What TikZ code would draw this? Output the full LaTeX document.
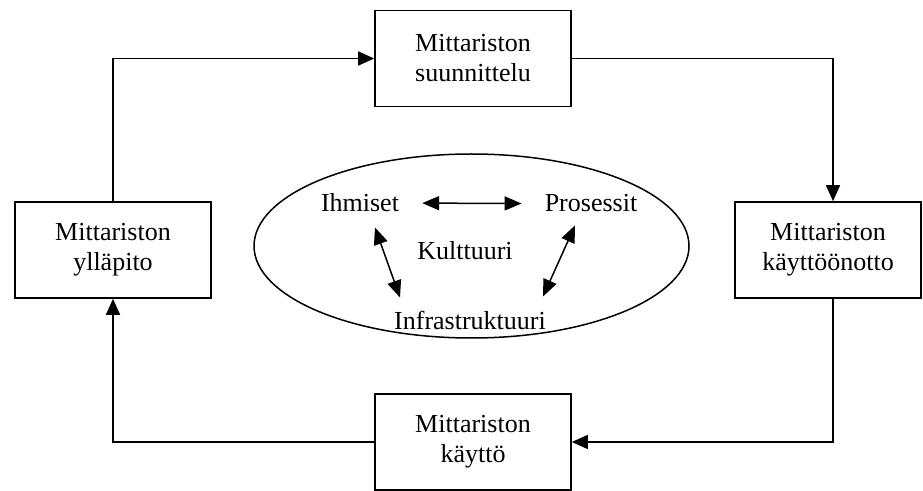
\documentclass[tikz,border=0pt]{standalone}
\usepackage{fontspec}
\setmainfont{Liberation Serif}
\usetikzlibrary{arrows.meta,shapes.geometric}
\begin{document}
\begin{tikzpicture}[x=1pt,y=1pt,
  every node/.style={font=\fontsize{26}{30}\selectfont},
  phase/.style={draw,line width=1.6pt,align=center,minimum width=196pt,minimum height=96pt,inner sep=0pt},
  flow/.style={line width=1.5pt,-{Triangle[length=16pt,width=14pt]}},
  link/.style={line width=1.5pt,{Triangle[length=17pt,width=14pt]}-{Triangle[length=17pt,width=14pt]}},
  word/.style={inner sep=0pt,anchor=base}]
\useasboundingbox (0,0) rectangle (923,490);

% lifecycle phases
\node[phase] (top) at (473,431.5) {Mittariston\\suunnittelu};
\node[phase] (left) at (113,240) {Mittariston\\ylläpito};
\node[phase,minimum width=186pt] (right) at (828,240) {Mittariston\\käyttöönotto};
\node[phase] (bottom) at (473,48) {Mittariston\\käyttö};

% corner points of the cycle
\coordinate (ne) at (833,431.5);
\coordinate (se) at (833,48);

% cycle connectors
\draw[flow] (left.north) |- (top.west);
\draw[flow] (top.east) -- (ne) -- (ne |- right.north);
\draw[flow] (se |- right.south) -- (se) -- (bottom.east);
\draw[flow] (bottom.west) -| (left.south);

% culture ellipse
\node[draw,ellipse,line width=1.5pt,minimum width=435pt,minimum height=184pt,inner sep=0pt] (culture) at (471.5,244) {};

\node[word] (ih) at (360,278) {Ihmiset};
\node[word] (pr) at (591,278) {Prosessit};
\node[word] (ku) at (465,230) {Kulttuuri};
\node[word] (inf) at (470,160) {Infrastruktuuri};

\draw[link] ([xshift=23pt]ih.east) -- ([xshift=-23pt]pr.west);
\draw[link] ([shift={(15pt,-15pt)}]ih.south) -- ([shift={(-70pt,14pt)}]inf.north);
\draw[link] ([shift={(-16pt,-13pt)}]pr.south) -- ([shift={(73pt,15pt)}]inf.north);
\end{tikzpicture}
\end{document}
